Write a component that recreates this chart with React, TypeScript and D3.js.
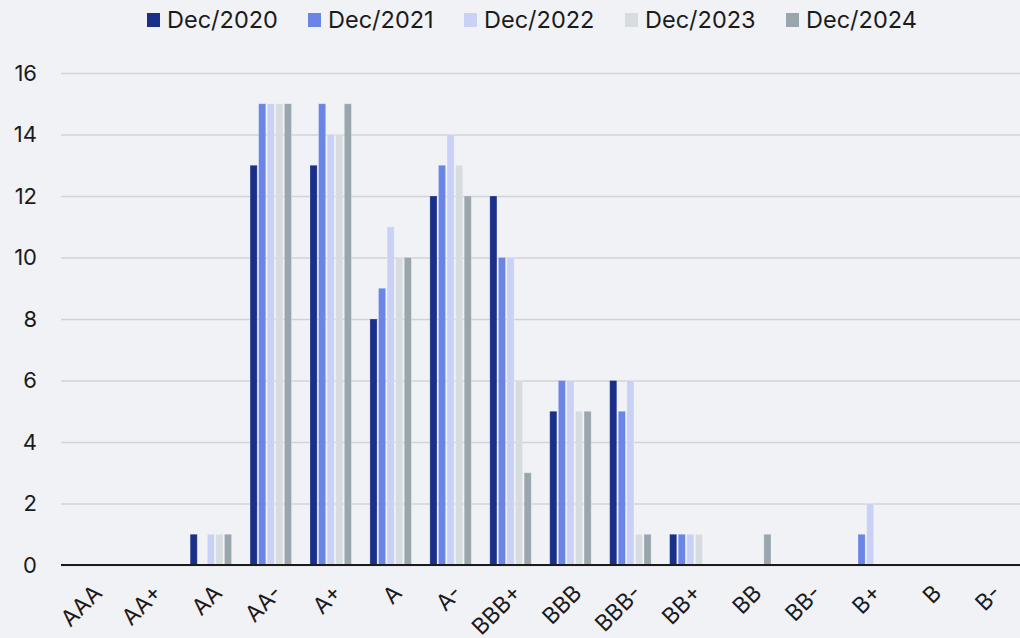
import React, { useEffect, useRef } from "react";
import { select, scaleBand, scaleLinear, axisLeft } from "d3";

const categories = ["AAA", "AA+", "AA", "AA-", "A+", "A", "A-", "BBB+", "BBB", "BBB-", "BB+", "BB", "BB-", "B+", "B", "B-"];
const seriesNames = ["Dec/2020", "Dec/2021", "Dec/2022", "Dec/2023", "Dec/2024"];
const dec2020 = [0, 0, 1, 13, 13, 8, 12, 12, 5, 6, 1, 0, 0, 0, 0, 0];
const dec2021 = [0, 0, 0, 15, 15, 9, 13, 10, 6, 5, 1, 0, 0, 1, 0, 0];
const dec2022 = [0, 0, 1, 15, 14, 11, 14, 10, 6, 6, 1, 0, 0, 2, 0, 0];
const dec2023 = [0, 0, 1, 15, 14, 10, 13, 6, 5, 1, 1, 0, 0, 0, 0, 0];
const dec2024 = [0, 0, 1, 15, 15, 10, 12, 3, 5, 1, 0, 1, 0, 0, 0, 0];
const yTicks = [0, 2, 4, 6, 8, 10, 12, 14, 16];
const colors = ["#1a2f87", "#6a85e6", "#c9d2f6", "#d6dcdf", "#9aa6ad"];

const W = 1020;
const H = 638;
const margin = { top: 73, right: 0, bottom: 73, left: 61 };
const FONT = "Inter, 'Noto Sans', sans-serif";

const App = () => {
  const svgRef = useRef<SVGSVGElement>(null);

  useEffect(() => {
    document.body.style.margin = "0";
    const svg = select(svgRef.current);
    svg.selectAll("*").remove();

    const allSeries = [dec2020, dec2021, dec2022, dec2023, dec2024];
    const x = scaleBand<string>().domain(categories).range([margin.left, W - margin.right]).paddingInner(0.26).paddingOuter(0.13);
    const xInner = scaleBand<number>().domain(seriesNames.map((_, i) => i)).range([0, x.bandwidth()]).padding(0.17);
    const y = scaleLinear().domain([0, 16]).range([H - margin.bottom, margin.top]);

    // grid + y labels
    const yAxis = axisLeft(y).tickValues(yTicks).tickSize(-(W - margin.left - margin.right)).tickFormat((d) => String(d));
    const gy = svg.append("g").attr("transform", `translate(${margin.left},0)`).call(yAxis);
    gy.select(".domain").remove();
    gy.selectAll(".tick line").attr("stroke", "#d2d3d6").attr("stroke-width", 1.5);
    gy.selectAll(".tick text")
      .attr("x", -24)
      .attr("fill", "#1b1b1b")
      .style("font-family", FONT)
      .style("font-size", "22px");

    // bars
    allSeries.forEach((vals, si) => {
      const rows = vals.map((v, i) => ({ cat: categories[i], v })).filter((d) => d.v > 0);
      svg.append("g")
        .selectAll("rect")
        .data(rows)
        .join("rect")
        .attr("x", (d) => (x(d.cat) as number) + (xInner(si) as number))
        .attr("y", (d) => y(d.v))
        .attr("width", xInner.bandwidth())
        .attr("height", (d) => y(0) - y(d.v))
        .attr("fill", colors[si])
        .attr("stroke", "#ffffff")
        .attr("stroke-opacity", 0.3)
        .attr("stroke-width", 0.8);
    });

    // zero line
    svg.append("line")
      .attr("x1", margin.left).attr("x2", W - margin.right)
      .attr("y1", y(0)).attr("y2", y(0))
      .attr("stroke", "#1b1b1b").attr("stroke-width", 2);

    // x labels
    svg.append("g")
      .selectAll("text")
      .data(categories)
      .join("text")
      .attr("transform", (d) => `translate(${(x(d) as number) + x.bandwidth() / 2 + 7},${y(0) + 24}) rotate(-45)`)
      .attr("text-anchor", "end")
      .attr("dy", "0.35em")
      .attr("fill", "#1b1b1b")
      .style("font-family", FONT)
      .style("font-size", "22.5px")
      .text((d) => d);

    // legend
    const legendX = [147, 308, 464, 625, 786];
    const lg = svg.append("g");
    seriesNames.forEach((name, i) => {
      lg.append("rect").attr("x", legendX[i]).attr("y", 13).attr("width", 13).attr("height", 14).attr("fill", colors[i]);
      lg.append("text")
        .attr("x", legendX[i] + 20)
        .attr("y", 20)
        .attr("dy", "0.35em")
        .attr("fill", "#1b1b1b")
        .style("font-family", FONT)
        .style("font-size", "23.5px")
        .text(name);
    });
  }, []);

  return (
    <svg
      ref={svgRef}
      width={W}
      height={H}
      style={{ display: "block", background: "#f1f2f6" }}
    />
  );
};

export default App;
